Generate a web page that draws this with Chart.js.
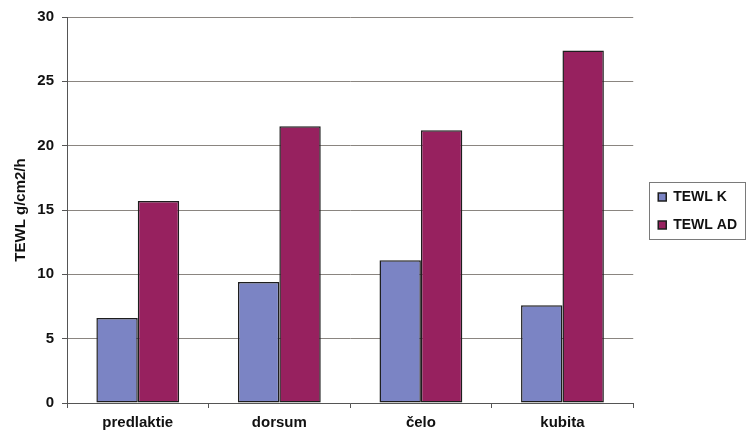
<!DOCTYPE html>
<html>
<head>
<meta charset="utf-8">
<script src="https://cdn.jsdelivr.net/npm/chart.js@4.4.1/dist/chart.umd.min.js"></script>
<style>
  body { margin: 0; background: #fff; }
  #wrap { width: 748px; height: 434px; }
</style>
</head>
<body>
<div id="wrap"><canvas id="tewlChart" width="748" height="434"></canvas></div>
<script>
// data
const sites = ["predlaktie", "dorsum", "čelo", "kubita"];
const tewlK = [6.6, 9.4, 11.1, 7.6];
const tewlAD = [15.7, 21.5, 21.2, 27.4];
const yTicks = [0, 5, 10, 15, 20, 25, 30];

const textColor = "#111";
const gridColor = "#8a8580";
const boldFont = { family: "'Liberation Sans', Arial, sans-serif", size: 15, weight: "bold" };

// nudge the legend box: a bit right and centred on the plot, not the canvas
const legendNudge = {
  id: "legendNudge",
  afterLayout(chart) {
    const lg = chart.legend;
    if (!lg) return;
    lg.left += 11;
    lg.right += 11;
    lg.bottom -= 24;
    lg.height -= 24;
  }
};

// draw a thin frame round the legend, like the old Excel one
const legendFrame = {
  id: "legendFrame",
  afterDraw(chart) {
    const boxes = chart.legend && chart.legend.legendHitBoxes;
    if (!boxes || !boxes.length) return;
    let l = Infinity, t = Infinity, r = -Infinity, b = -Infinity;
    boxes.forEach(h => {
      l = Math.min(l, h.left); t = Math.min(t, h.top);
      r = Math.max(r, h.left + h.width); b = Math.max(b, h.top + h.height);
    });
    const ctx = chart.ctx;
    ctx.save();
    ctx.strokeStyle = "#7a7a7a";
    ctx.lineWidth = 1;
    ctx.strokeRect(Math.round(l - 9) + 0.5, Math.round(t - 8) + 0.5, Math.round(r - l + 17), Math.round(b - t + 15));
    ctx.restore();
  }
};

new Chart(document.getElementById("tewlChart"), {
  type: "bar",
  data: {
    labels: sites,
    datasets: [
      {
        label: "TEWL K",
        data: tewlK,
        backgroundColor: "#7b84c4",
        borderColor: "#1e1e1e",
        borderWidth: 1.5,
        borderSkipped: false
      },
      {
        label: "TEWL AD",
        data: tewlAD,
        backgroundColor: "#97215f",
        borderColor: "#1e1e1e",
        borderWidth: 1.5,
        borderSkipped: false
      }
    ]
  },
  options: {
    responsive: false,
    animation: false,
    devicePixelRatio: 1,
    layout: { padding: { top: 12, right: 12, bottom: 0, left: 0 } },
    datasets: {
      bar: { categoryPercentage: 0.585, barPercentage: 1.0 }
    },
    plugins: {
      tooltip: { enabled: false },
      legend: {
        position: "right",
        labels: {
          boxWidth: 8,
          boxHeight: 8,
          padding: 14,
          color: textColor,
          font: { family: "'Liberation Sans', Arial, sans-serif", size: 14, weight: "bold" }
        }
      }
    },
    scales: {
      x: {
        offset: true,
        grid: {
          offset: true,
          drawOnChartArea: false,
          drawTicks: true,
          tickLength: 5,
          color: "#555"
        },
        border: { display: true, color: "#555", width: 1 },
        ticks: { color: textColor, font: boldFont, padding: 6 },
        afterFit(scale) { scale.height = 31; }
      },
      y: {
        min: 0,
        max: 30,
        afterBuildTicks(scale) { scale.ticks = yTicks.map(v => ({ value: v })); },
        grid: {
          color: gridColor,
          lineWidth: 1,
          drawTicks: true,
          tickLength: 5,
          tickColor: "#555"
        },
        border: { display: true, color: "#555", width: 1 },
        ticks: { color: textColor, font: boldFont, padding: 8 },
        title: {
          display: true,
          text: "TEWL g/cm2/h",
          color: textColor,
          font: boldFont,
          padding: { top: 12, bottom: 0 }
        },
        afterFit(scale) { scale.width = 67; }
      }
    }
  },
  plugins: [legendNudge, legendFrame]
});
</script>
</body>
</html>
